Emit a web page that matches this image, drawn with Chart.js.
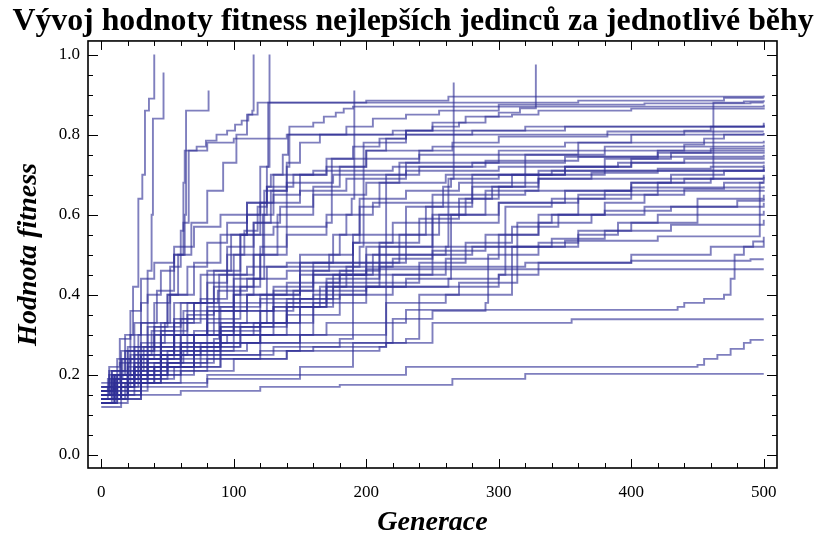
<!DOCTYPE html>
<html>
<head>
<meta charset="utf-8">
<script src="https://cdn.jsdelivr.net/npm/chart.js@4.4.1/dist/chart.umd.min.js"></script>
<style>
  body { margin: 0; background: #fff; }
  #wrap { width: 826px; height: 540px; }
</style>
</head>
<body>
<div id="wrap"><canvas id="fitChart"></canvas></div>
<script>
// osa x: generace, osa y: hodnota fitness
const xMajor = [0, 100, 200, 300, 400, 500];
const xMinor = [20, 40, 60, 80, 120, 140, 160, 180, 220, 240, 260, 280, 320, 340, 360, 380, 420, 440, 460, 480];
const yMajor = [0, 0.2, 0.4, 0.6, 0.8, 1.0];
const yMinor = [0.05, 0.1, 0.15, 0.25, 0.3, 0.35, 0.45, 0.5, 0.55, 0.65, 0.7, 0.75, 0.85, 0.9, 0.95];

// jednotlive behy: [generace, fitness] v okamziku zlepseni
const run01 = [[0,0.16],[5,0.19],[12,0.24],[18,0.3],[24,0.42],[28,0.64],[31,0.7],[33,0.86],[36,0.89],[40,1.0]];
const run02 = [[0,0.15],[6,0.18],[14,0.23],[22,0.3],[30,0.38],[35,0.46],[38,0.6],[39,0.84],[47,0.955]];
const run03 = [[0,0.14],[8,0.17],[20,0.21],[32,0.27],[45,0.33],[52,0.4],[58,0.5],[63,0.6],[64,0.86],[81,0.91]];
const run04 = [[0,0.15],[7,0.19],[16,0.24],[28,0.3],[40,0.38],[52,0.47],[60,0.56],[62,0.68],[63,0.76],[72,0.77],[79,0.785],[87,0.8],[95,0.81],[101,0.825],[106,0.835],[111,0.85],[114,0.86],[115,1.0]];
const run05 = [[0,0.13],[10,0.18],[25,0.22],[45,0.26],[70,0.3],[90,0.34],[105,0.42],[115,0.5],[122,0.6],[125,0.72],[127,1.0]];
const run06 = [[0,0.17],[8,0.21],[18,0.26],[30,0.33],[42,0.41],[55,0.5],[68,0.58],[80,0.66],[92,0.73],[102,0.8],[110,0.85],[118,0.88],[200,0.885],[262,0.895],[500,0.8975]];
const run07 = [[0,0.14],[12,0.2],[25,0.26],[40,0.32],[60,0.38],[80,0.46],[98,0.55],[110,0.63],[120,0.72],[126,0.88],[360,0.885],[470,0.892],[500,0.892]];
const run08 = [[0,0.16],[10,0.2],[30,0.25],[55,0.3],[80,0.36],[100,0.42],[120,0.5],[133,0.6],[140,0.72],[142,0.82],[160,0.83],[168,0.845],[177,0.855],[183,0.865],[190,0.87],[300,0.875],[410,0.878],[490,0.88],[500,0.88]];
const run09 = [[0,0.15],[15,0.19],[35,0.23],[60,0.27],[90,0.31],[120,0.36],[145,0.41],[160,0.46],[172,0.5],[180,0.55],[185,0.6],[189,0.64],[191,0.91]];
const run10 = [[0,0.13],[10,0.18],[25,0.22],[45,0.28],[65,0.35],[85,0.42],[100,0.5],[115,0.58],[128,0.66],[140,0.73],[150,0.78],[165,0.8],[185,0.82],[205,0.84],[230,0.85],[255,0.86],[300,0.87],[500,0.875]];
const run11 = [[0,0.15],[8,0.2],[20,0.26],[35,0.32],[50,0.4],[70,0.48],[90,0.55],[110,0.6],[130,0.65],[150,0.7],[170,0.74],[190,0.77],[210,0.79],[230,0.81],[250,0.82],[270,0.83],[290,0.845],[310,0.85],[330,0.86],[400,0.865],[500,0.867]];
const run12 = [[0,0.16],[12,0.2],[30,0.25],[55,0.3],[80,0.37],[100,0.44],[120,0.52],[140,0.6],[160,0.67],[180,0.72],[200,0.76],[215,0.79],[230,0.81],[250,0.83],[275,0.845],[300,0.855],[316,0.866],[328,0.975]];
const run13 = [[0,0.14],[20,0.18],[45,0.22],[75,0.27],[105,0.32],[140,0.38],[170,0.43],[200,0.48],[225,0.55],[245,0.62],[258,0.67],[264,0.69],[266,0.93]];
const run14 = [[0,0.15],[10,0.19],[30,0.24],[60,0.3],[100,0.38],[150,0.45],[200,0.52],[250,0.58],[300,0.63],[350,0.66],[400,0.68],[440,0.69],[462,0.88],[485,0.883],[500,0.886]];
const run15 = [[0,0.13],[12,0.17],[28,0.21],[50,0.26],[80,0.33],[110,0.4],[150,0.47],[190,0.55],[230,0.62],[280,0.7],[320,0.75],[360,0.78],[400,0.8],[440,0.81],[460,0.82],[500,0.825]];
const run16 = [[0,0.16],[10,0.2],[25,0.25],[45,0.31],[65,0.38],[85,0.46],[105,0.55],[120,0.63],[130,0.7],[137,0.75],[141,0.8],[500,0.8]];
const run17 = [[0,0.14],[15,0.18],[35,0.22],[60,0.27],[90,0.33],[120,0.4],[150,0.48],[175,0.55],[195,0.62],[210,0.68],[225,0.73],[240,0.76],[265,0.78],[300,0.795],[382,0.808],[500,0.808]];
const run18 = [[0,0.15],[20,0.2],[50,0.25],[90,0.3],[130,0.37],[170,0.44],[210,0.52],[250,0.6],[290,0.66],[330,0.71],[380,0.74],[420,0.76],[440,0.775],[455,0.79],[470,0.8],[500,0.804]];
const run19 = [[0,0.17],[8,0.21],[20,0.27],[35,0.33],[50,0.4],[65,0.47],[80,0.53],[95,0.58],[110,0.63],[125,0.67],[145,0.7],[170,0.72],[200,0.74],[240,0.75],[300,0.76],[380,0.77],[500,0.775]];
const run20 = [[0,0.13],[10,0.17],[25,0.21],[45,0.25],[70,0.3],[100,0.36],[130,0.42],[160,0.48],[190,0.53],[220,0.58],[250,0.63],[280,0.67],[310,0.7],[350,0.72],[400,0.74],[430,0.755],[460,0.765],[500,0.767]];
const run21 = [[0,0.15],[12,0.19],[28,0.24],[45,0.3],[62,0.36],[80,0.43],[95,0.5],[108,0.56],[118,0.62],[125,0.67],[128,0.7],[160,0.71],[220,0.72],[280,0.73],[350,0.745],[420,0.755],[500,0.758]];
const run22 = [[0,0.16],[15,0.2],[35,0.24],[60,0.28],[95,0.3],[212,0.3],[215,0.7],[240,0.72],[290,0.735],[360,0.745],[500,0.75]];
const run23 = [[0,0.14],[18,0.18],[40,0.22],[70,0.27],[105,0.33],[140,0.39],[175,0.45],[205,0.5],[230,0.55],[255,0.6],[275,0.64],[295,0.67],[320,0.7],[350,0.72],[390,0.73],[440,0.74],[500,0.742]];
const run24 = [[0,0.15],[6,0.2],[15,0.26],[25,0.33],[35,0.4],[45,0.46],[55,0.52],[70,0.57],[90,0.6],[120,0.63],[150,0.66],[185,0.69],[230,0.71],[300,0.72],[400,0.73],[500,0.733]];
const run25 = [[0,0.12],[15,0.16],[35,0.2],[60,0.24],[90,0.28],[120,0.33],[150,0.39],[180,0.46],[210,0.53],[240,0.59],[270,0.64],[300,0.67],[330,0.69],[370,0.705],[420,0.715],[460,0.72],[500,0.725]];
const run26 = [[0,0.16],[10,0.2],[22,0.25],[38,0.31],[55,0.38],[75,0.45],[95,0.52],[115,0.58],[135,0.62],[160,0.65],[200,0.68],[260,0.7],[340,0.71],[500,0.7125]];
const run27 = [[0,0.14],[10,0.17],[25,0.21],[45,0.25],[75,0.28],[180,0.29],[190,0.42],[230,0.44],[300,0.45],[305,0.62],[340,0.64],[380,0.66],[420,0.68],[460,0.69],[500,0.7]];
const run28 = [[0,0.15],[20,0.19],[50,0.23],[85,0.28],[120,0.33],[160,0.38],[200,0.43],[240,0.48],[275,0.53],[310,0.57],[345,0.6],[380,0.63],[410,0.65],[440,0.665],[470,0.68],[500,0.6875]];
const run29 = [[0,0.13],[8,0.17],[20,0.22],[35,0.27],[55,0.33],[75,0.39],[95,0.45],[115,0.5],[140,0.55],[170,0.6],[205,0.63],[250,0.65],[320,0.66],[400,0.668],[500,0.671]];
const run30 = [[0,0.17],[15,0.2],[35,0.24],[60,0.28],[90,0.32],[130,0.37],[170,0.42],[210,0.47],[250,0.51],[290,0.55],[330,0.58],[370,0.6],[410,0.62],[450,0.64],[500,0.65]];
const run31 = [[0,0.15],[25,0.18],[60,0.21],[100,0.24],[140,0.26],[210,0.27],[215,0.38],[260,0.4],[300,0.4],[310,0.52],[360,0.55],[390,0.58],[420,0.6],[450,0.62],[480,0.635],[500,0.64]];
const run32 = [[0,0.14],[15,0.18],[40,0.22],[70,0.26],[100,0.3],[140,0.35],[180,0.4],[220,0.45],[260,0.49],[300,0.52],[340,0.54],[380,0.56],[430,0.575],[500,0.5875]];
const run33 = [[0,0.16],[10,0.19],[25,0.23],[45,0.27],[70,0.31],[100,0.36],[130,0.41],[160,0.45],[190,0.48],[230,0.5],[280,0.52],[350,0.535],[420,0.546],[497,0.68],[500,0.68]];
const run34 = [[0,0.14],[30,0.2],[70,0.25],[120,0.3],[170,0.33],[230,0.3625],[435,0.37],[440,0.38],[455,0.39],[470,0.4],[475,0.44],[478,0.5],[485,0.52],[492,0.533],[500,0.533]];
const run35 = [[0,0.15],[12,0.19],[30,0.24],[55,0.3],[85,0.36],[110,0.4],[140,0.43],[180,0.45],[250,0.47],[320,0.48],[400,0.485],[490,0.489],[500,0.489]];
const run36 = [[0,0.15],[20,0.19],[45,0.22],[90,0.24],[140,0.26],[150,0.37],[175,0.42],[190,0.45],[200,0.464],[500,0.464]];
const run37 = [[0,0.15],[30,0.18],[80,0.2],[150,0.22],[190,0.28],[250,0.33],[355,0.339],[500,0.339]];
const run38 = [[0,0.14],[30,0.17],[80,0.19],[150,0.2],[230,0.22],[450,0.225],[455,0.24],[465,0.25],[475,0.265],[485,0.28],[490,0.2875],[500,0.2875]];
const run39 = [[0,0.13],[20,0.15],[60,0.16],[120,0.17],[180,0.175],[265,0.19],[320,0.2025],[500,0.2025]];
const run40 = [[0,0.17],[6,0.22],[14,0.29],[22,0.36],[30,0.44],[40,0.48],[55,0.5],[62,0.58],[66,0.76],[80,0.78],[100,0.79],[140,0.8],[220,0.81],[320,0.82],[500,0.822]];
const run41 = [[0,0.15],[10,0.2],[22,0.24],[40,0.27],[60,0.3],[90,0.32],[120,0.33],[125,0.47],[150,0.5],[190,0.53],[195,0.64],[230,0.66],[270,0.68],[330,0.69],[500,0.695]];
const run42 = [[0,0.14],[15,0.17],[30,0.2],[50,0.23],[80,0.26],[110,0.28],[150,0.3],[160,0.4],[200,0.42],[262,0.44],[264,0.6],[300,0.63],[360,0.65],[420,0.66],[500,0.662]];
const run43 = [[0,0.16],[8,0.2],[18,0.24],[30,0.28],[48,0.33],[70,0.38],[100,0.4],[105,0.55],[130,0.57],[170,0.58],[174,0.74],[200,0.76],[250,0.77],[350,0.78],[500,0.785]];
const run44 = [[0,0.13],[12,0.16],[30,0.19],[55,0.22],[90,0.25],[130,0.27],[180,0.28],[230,0.29],[240,0.4],[270,0.43],[300,0.45],[330,0.48],[400,0.5],[460,0.52],[500,0.545]];
const run45 = [[0,0.15],[10,0.19],[20,0.23],[35,0.26],[55,0.3],[80,0.36],[100,0.4],[115,0.44],[123,0.66],[140,0.68],[175,0.7],[230,0.73],[300,0.75],[380,0.76],[500,0.762]];
const run46 = [[0,0.16],[10,0.19],[25,0.22],[45,0.25],[65,0.28],[85,0.29],[89,0.45],[110,0.47],[140,0.48],[200,0.5],[260,0.52],[300,0.55],[330,0.6],[360,0.64],[400,0.68],[430,0.7],[470,0.71],[500,0.715]];
const run47 = [[0,0.14],[5,0.17],[15,0.21],[28,0.26],[40,0.3],[55,0.34],[70,0.38],[88,0.41],[110,0.44],[140,0.46],[190,0.47],[220,0.49],[250,0.52],[262,0.69],[300,0.7],[380,0.71],[500,0.72]];
const run48 = [[0,0.18],[6,0.21],[15,0.24],[25,0.27],[40,0.3],[60,0.34],[90,0.37],[120,0.39],[160,0.41],[200,0.42],[300,0.43],[314,0.58],[340,0.6],[380,0.61],[430,0.62],[500,0.63]];
const run49 = [[0,0.15],[20,0.18],[45,0.21],[80,0.24],[120,0.26],[160,0.27],[215,0.28],[220,0.34],[250,0.36],[290,0.38],[292,0.5],[330,0.53],[360,0.56],[400,0.58],[450,0.6],[500,0.61]];
const run50 = [[0,0.14],[10,0.17],[22,0.2],[40,0.23],[62,0.26],[90,0.3],[115,0.33],[140,0.37],[165,0.42],[185,0.47],[195,0.52],[198,0.78],[230,0.8],[280,0.81],[350,0.82],[500,0.83]];

const runs = [run01, run02, run03, run04, run05, run06, run07, run08, run09, run10,
              run11, run12, run13, run14, run15, run16, run17, run18, run19, run20,
              run21, run22, run23, run24, run25, run26, run27, run28, run29, run30,
              run31, run32, run33, run34, run35, run36, run37, run38, run39, run40,
              run41, run42, run43, run44, run45, run46, run47, run48, run49, run50];

const lineColor = 'rgba(48, 48, 150, 0.62)';
const serif = "'Liberation Serif', 'Times New Roman', serif";

// ramecek a ticky dovnitr (styl Mathematica)
const frameTicks = {
    id: 'frameTicks',
    afterDraw(chart) {
        const { ctx, chartArea: a, scales: { x, y } } = chart;
        ctx.save();
        ctx.strokeStyle = '#000';
        ctx.lineWidth = 1;
        ctx.beginPath();
        const xt = (vals, len) => vals.forEach(v => {
            const px = Math.round(x.getPixelForValue(v)) + 0.5;
            ctx.moveTo(px, a.bottom); ctx.lineTo(px, a.bottom - len);
            ctx.moveTo(px, a.top); ctx.lineTo(px, a.top + len);
        });
        const yt = (vals, len) => vals.forEach(v => {
            const py = Math.round(y.getPixelForValue(v)) + 0.5;
            ctx.moveTo(a.left, py); ctx.lineTo(a.left + len, py);
            ctx.moveTo(a.right, py); ctx.lineTo(a.right - len, py);
        });
        xt(xMajor, 9); xt(xMinor, 5);
        yt(yMajor, 10); yt(yMinor, 5);
        ctx.stroke();
        ctx.lineWidth = 1.6;
        ctx.strokeRect(a.left, a.top, a.right - a.left, a.bottom - a.top);
        ctx.restore();
    }
};

const datasets = runs.map((r, i) => ({
    label: 'Běh ' + (i + 1),
    data: r.map(p => ({ x: p[0], y: p[1] })),
    borderColor: lineColor,
    borderWidth: 1.9,
    pointRadius: 0,
    stepped: true,
    fill: false
}));

new Chart(document.getElementById('fitChart'), {
    type: 'line',
    data: { datasets },
    options: {
        responsive: true,
        maintainAspectRatio: false,
        animation: false,
        layout: { padding: 0 },
        plugins: {
            legend: { display: false },
            tooltip: { enabled: false },
            title: {
                display: true,
                text: 'Vývoj hodnoty fitness nejlepších jedinců za jednotlivé běhy',
                color: '#000',
                font: { family: serif, size: 31.8, weight: 'bold' },
                padding: { top: 2.5, bottom: 0.3 }
            }
        },
        scales: {
            x: {
                type: 'linear',
                min: -10,
                max: 510,
                afterBuildTicks: s => { s.ticks = xMajor.map(v => ({ value: v })); },
                afterFit: s => { s.height = 72; },
                grid: { display: false, drawTicks: false },
                border: { display: false },
                ticks: { color: '#000', font: { family: serif, size: 17 }, padding: 14, maxRotation: 0 },
                title: {
                    display: true, text: 'Generace', color: '#000',
                    font: { family: serif, size: 28, style: 'italic', weight: 'bold' },
                    padding: { top: 0, bottom: 0 }
                }
            },
            y: {
                type: 'linear',
                min: -0.0325,
                max: 1.034,
                afterBuildTicks: s => { s.ticks = yMajor.map(v => ({ value: v })); },
                afterFit: s => { s.width = 88; },
                grid: { display: false, drawTicks: false },
                border: { display: false },
                ticks: { color: '#000', font: { family: serif, size: 17 }, padding: 8,
                         callback: v => v.toFixed(1) },
                title: {
                    display: true, text: 'Hodnota fitness', color: '#000',
                    font: { family: serif, size: 28, style: 'italic', weight: 'bold' },
                    padding: { top: 12, bottom: 0 }
                }
            },
            yRight: {
                type: 'linear',
                position: 'right',
                display: true,
                min: 0,
                max: 1,
                afterFit: s => { s.width = 49; },
                grid: { display: false, drawTicks: false },
                border: { display: false },
                ticks: { display: false }
            }
        }
    },
    plugins: [frameTicks]
});
</script>
</body>
</html>
